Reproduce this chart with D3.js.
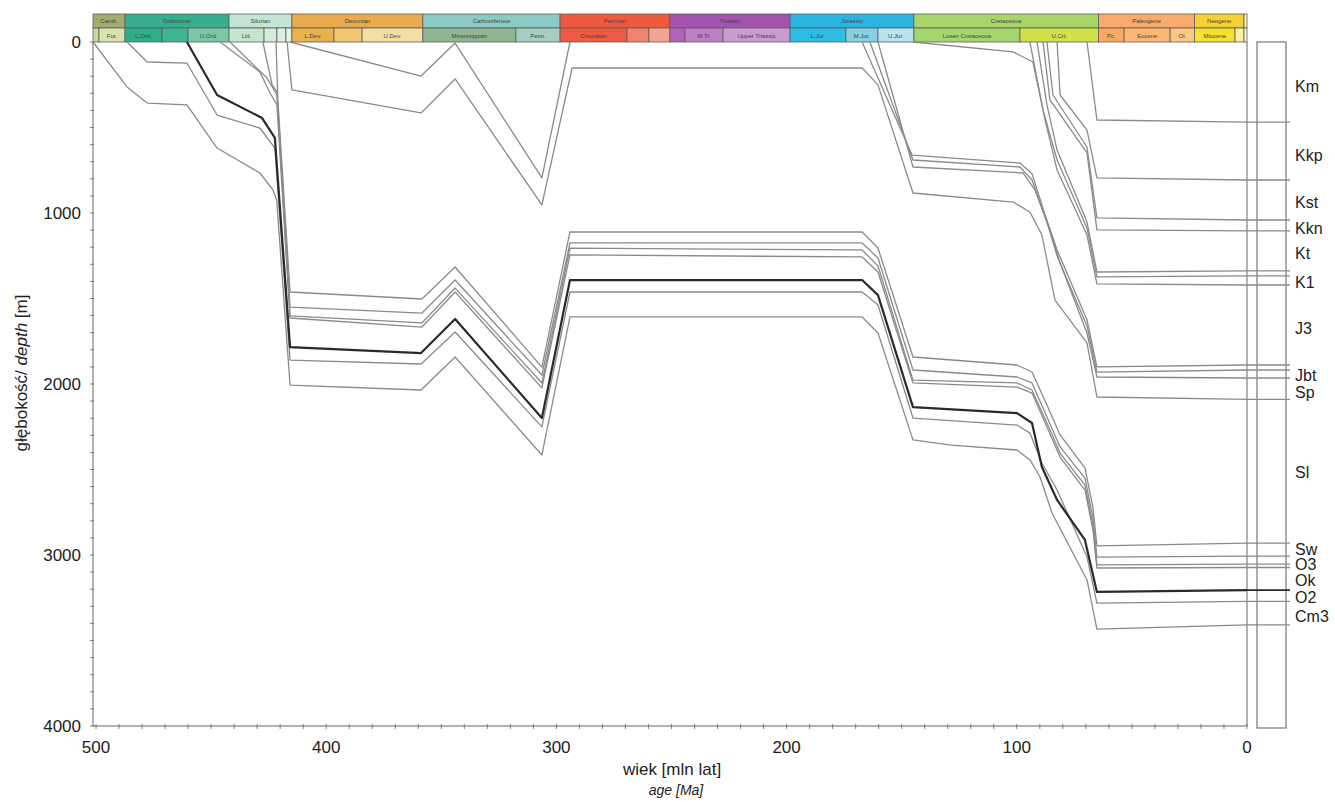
<!DOCTYPE html>
<html>
<head>
<meta charset="utf-8">
<script src="https://cdn.jsdelivr.net/npm/d3@7"></script>
<style>
  body { margin: 0; background: #fff; }
  text { font-family: "Liberation Sans", Arial, sans-serif; }
</style>
</head>
<body>
<div id="chart"></div>
<script>

// chart size
const width = 1335,
      height = 802;

// ---- data: burial curves, [age Ma, depth m] ----
const cm3Base = [[501.3,0],[486.5,263],[477.8,357],[460.5,368],[447.4,620],[428.8,766],[423.1,865],[421.5,925],[415.7,2006],
  [358.8,2035],[344,1842],[306.3,2415],[294.1,1608],[167.2,1608],[160.3,1702],[145.1,2327],[128.5,2357],[99.9,2386],
  [94.3,2444],[89.9,2544],[84.7,2754],[69.5,3146],[65.2,3433],[0,3409]]
const o2Base = [[486.5,0],[477.8,117],[460.5,123],[447.4,427],[428.8,503],[422.3,620],[415.7,1860],[358.8,1883],[344,1696],
  [306.3,2251],[294.1,1462],[167.2,1462],[160.3,1538],[145.1,2199],[99.9,2240],[94.3,2287],[89.1,2462],[82.5,2620],
  [69.5,3012],[65.2,3281],[0,3271]]
const okBase = [[460.5,0],[447.4,310],[427.9,444],[422.3,561],[415.7,1784],[358.8,1819],[344,1620],[306.3,2199],[294.1,1392],
  [167.2,1392],[160.3,1480],[145.1,2135],[99.9,2170],[93.4,2228],[89.1,2485],[82.5,2678],[70.4,2912],[65.2,3216],[0,3205]]
const o3Base = [[446.1,0],[428.8,175],[424.4,298],[421.4,368],[415.7,1614],[358.4,1667],[344,1462],[306.3,2023],[294.1,1245],
  [167.2,1257],[160.3,1345],[145.1,1994],[99.9,2018],[93.4,2053],[86.9,2251],[81.2,2427],[70.4,2620],[66.9,2854],[65.2,3076],[0,3073]]
const o3Top = [[441.8,0],[425.7,211],[421.4,310],[415.7,1602],[358.4,1643],[344,1439],[306.3,1994],[294.1,1205],
  [167.2,1216],[160.3,1310],[145.1,1977],[99.9,1994],[93.4,2035],[86.9,2228],[81.2,2404],[70.4,2591],[66.9,2825],[65.2,3058],[0,3053]]
const swBase = [[427.5,0],[423.5,251],[421.4,292],[415.7,1550],[358.4,1585],[344,1392],[306.3,1947],[294.1,1175],
  [167.2,1175],[160.3,1263],[145.1,1918],[99.9,1959],[93.4,1994],[86.9,2193],[81.2,2368],[70.4,2550],[66.9,2784],[65.2,3012],[0,3006]]
const slBase = [[421.8,0],[421,339],[415.7,1462],[358.4,1503],[344,1316],[306.3,1901],[294.1,1111],
  [167.2,1111],[160.3,1205],[145.1,1842],[99.9,1889],[93.4,1930],[86.9,2123],[81.2,2298],[70.4,2491],[66.9,2725],[65.2,2947],[0,2930]]
const spBase = [[417,0],[414.9,280],[358.8,415],[344,216],[306.3,953],[293.2,152],[167.2,152],[160.3,251],[145.1,883],
  [101.6,936],[94.3,994],[89.1,1129],[83.4,1509],[69.5,1760],[65.2,2076],[0,2090]]
const devEroded = [[415.7,0],[358.8,199],[344,6],[306.3,795],[294.1,0]]
const jbtBase = [[160.3,0],[145.1,731],[97.3,766],[92.1,865],[85.6,1099],[81.2,1292],[69.5,1702],[65.2,1959],[0,1965]]
const jbtTop = [[163.8,0],[145.1,690],[98.6,731],[93.4,807],[86.9,1053],[82.5,1251],[69.5,1661],[65.2,1930],[0,1918]]
const j3Base = [[167.2,0],[145.5,661],[98.6,708],[93.4,770],[87.7,1012],[82.5,1216],[69.5,1626],[65.2,1900],[0,1889]]
const k1Base = [[145.1,0],[101.6,58],[93,117],[87.7,456],[82.5,749],[69.5,1129],[65.2,1415],[0,1421]]
const k1Top = [[94.3,0],[88.6,398],[82.5,690],[69.5,1088],[65.2,1374],[0,1368]]
const ktBase = [[91.2,0],[86.9,368],[82.5,632],[69.5,1053],[65.2,1345],[0,1339]]
const kknBase = [[88.6,0],[85.6,339],[69.5,649],[65.2,1099],[0,1105]]
const kstBase = [[86.9,0],[84.3,310],[69.5,614],[65.2,1029],[0,1041]]
const kkpBase = [[82.5,0],[81.2,310],[69.5,515],[65.2,795],[0,807]]
const kmBase = [[69.5,0],[65.2,456],[0,468]]

const horizons = [cm3Base, o2Base, okBase, o3Base, o3Top, swBase, slBase, spBase, devEroded,
                  jbtBase, jbtTop, j3Base, k1Base, k1Top, ktBase, kknBase, kstBase, kkpBase, kmBase]
const thickHorizon = okBase

// formation names in the right column and the depth where each name sits
const unitNames = ["Km","Kkp","Kst","Kkn","Kt","K1","J3","Jbt","Sp","Sl","Sw","O3","Ok","O2","Cm3"]
const unitDepths = [263,661,941,1088,1234,1409,1673,1953,2047,2515,2965,3058,3152,3246,3357]

// time scale (ages in Ma)
const periodNames = ["Camb.","Ordovician","Silurian","Devonian","Carboniferous","Permian","Triassic","Jurassic","Cretaceous","Paleogene","Neogene",""]
const periodBounds = [501.3,487.4,442.2,414.9,358.0,298.4,250.7,198.5,144.7,64.5,22.8,1.3,0]
const epochNames = ["","Fur.","L.Ord.","","U.Ord.","Lld.","","","","L.Dev.","","U.Dev.","Mississippian","Penn.",
  "Cisuralian","","","","M.Tr.","Upper Triassic","L.Jur.","M.Jur.","U.Jur.","Lower Cretaceous","U.Crt.",
  "Pc.","Eocene","Ol.","Miocene","",""]
const epochBounds = [501.3,498.7,487.4,471.3,460.0,442.2,427.0,421.4,417.5,414.9,396.6,384.4,358.0,317.6,298.4,
  269.3,259.8,250.7,244.1,227.6,198.5,174.2,160.3,144.7,98.6,64.5,53.4,33.4,22.8,5.2,1.3,0]

const xTicks = [500,400,300,200,100,0]
const yTicks = [0,1000,2000,3000,4000]

// colours
const periodColors = ["#a3ad6c","#37ae8d","#c3e5d6","#e8a94f","#8ccac5","#ee5a3f","#a453af","#2cb4e0","#a8d46a","#f8ab6c","#f4d236","#fff5b0"]
const epochColors = ["#c9d7a3","#d6e3b0","#2fae8a","#3db593","#77c9aa","#c4e6cf","#d3ecdc","#dcf0e3","#e3f3e9",
  "#e9b24f","#f2c772","#f4dfa2","#8fb592","#a6cdc1","#ef5a45","#f1826c","#f3a591","#b262b9","#c07fc5","#c99bd0",
  "#2fbde6","#86d2e2","#b8e4f0","#a5d56f","#cfe24a","#fba865","#fcb776","#fdc685","#f5e12e","#faf0a0","#fff8d0"]

// ---- scales ----
const x = d3.scaleLinear().domain([501.3, 0]).range([93, 1247])
const y = d3.scaleLinear().domain([0, 4000]).range([42, 726])

const svg = d3.select("#chart")
              .append("svg")
              .attr("width", width)
              .attr("height", height)

// time scale bar
const bar = svg.append("g")

bar.selectAll(".period")
   .data(periodNames)
   .join("rect")
   .attr("x", (d, i) => x(periodBounds[i]))
   .attr("y", 14)
   .attr("width", (d, i) => x(periodBounds[i + 1]) - x(periodBounds[i]))
   .attr("height", 14)
   .style("fill", (d, i) => periodColors[i])
   .style("stroke", "#5e5e5e")
   .style("stroke-width", 0.8)

bar.selectAll(".ptext")
   .data(periodNames)
   .join("text")
   .attr("x", (d, i) => (x(periodBounds[i]) + x(periodBounds[i + 1])) / 2)
   .attr("y", 23)
   .attr("text-anchor", "middle")
   .style("font-size", "6px")
   .style("fill", "#444")
   .text(d => d)

bar.selectAll(".epoch")
   .data(epochNames)
   .join("rect")
   .attr("x", (d, i) => x(epochBounds[i]))
   .attr("y", 28)
   .attr("width", (d, i) => x(epochBounds[i + 1]) - x(epochBounds[i]))
   .attr("height", 14)
   .style("fill", (d, i) => epochColors[i])
   .style("stroke", "#5e5e5e")
   .style("stroke-width", 0.8)

bar.selectAll(".etext")
   .data(epochNames)
   .join("text")
   .attr("x", (d, i) => (x(epochBounds[i]) + x(epochBounds[i + 1])) / 2)
   .attr("y", 37.5)
   .attr("text-anchor", "middle")
   .style("font-size", "6px")
   .style("fill", "#444")
   .text(d => d)

// axes
const axes = svg.append("g").style("stroke", "#666").style("fill", "none")

axes.append("line")
    .attr("x1", x(501.3)).attr("x2", x(501.3))
    .attr("y1", y(0)).attr("y2", y(4000))
axes.append("line")
    .attr("x1", x(501.3)).attr("x2", x(0))
    .attr("y1", y(4000)).attr("y2", y(4000))
axes.append("line")
    .attr("x1", x(0)).attr("x2", x(0))
    .attr("y1", y(0)).attr("y2", y(4000))

// minor ticks
axes.selectAll(".xminor")
    .data(d3.range(0, 501, 10))
    .join("line")
    .attr("x1", d => x(d)).attr("x2", d => x(d))
    .attr("y1", y(4000) - 2).attr("y2", y(4000) + 3)
    .style("stroke-width", 0.8)
axes.selectAll(".yminor")
    .data(d3.range(0, 4001, 100))
    .join("line")
    .attr("x1", x(501.3) - 3).attr("x2", x(501.3) + 1)
    .attr("y1", d => y(d)).attr("y2", d => y(d))
    .style("stroke-width", 0.8)

svg.selectAll(".xlab")
   .data(xTicks)
   .join("text")
   .attr("x", d => x(d))
   .attr("y", 753)
   .attr("text-anchor", "middle")
   .style("font-size", "17px")
   .style("fill", "#222")
   .text(d => d)

svg.selectAll(".ylab")
   .data(yTicks)
   .join("text")
   .attr("x", 81)
   .attr("y", d => y(d) + 6)
   .attr("text-anchor", "end")
   .style("font-size", "17px")
   .style("fill", "#222")
   .text(d => d)

// axis titles
svg.append("text")
   .attr("x", 672).attr("y", 775)
   .attr("text-anchor", "middle")
   .style("font-size", "17px").style("fill", "#222")
   .text("wiek [mln lat]")

svg.append("text")
   .attr("x", 676).attr("y", 795)
   .attr("text-anchor", "middle")
   .style("font-size", "14px").style("font-style", "italic").style("fill", "#222")
   .text("age [Ma]")

const ytitle = svg.append("text")
   .attr("transform", "translate(27,373) rotate(-90)")
   .attr("text-anchor", "middle")
   .style("font-size", "17px").style("fill", "#222")
ytitle.append("tspan").text("głębokość/ ")
ytitle.append("tspan").style("font-style", "italic").text("depth")
ytitle.append("tspan").text(" [m]")

// burial curves
const line = d3.line()
               .x(d => x(d[0]))
               .y(d => y(d[1]))

svg.append("g")
   .selectAll("path")
   .data(horizons)
   .join("path")
   .attr("d", line)
   .style("fill", "none")
   .style("stroke", d => d === thickHorizon ? "#2a2a2a" : "#8a8a8a")
   .style("stroke-width", d => d === thickHorizon ? 2.2 : 1.3)
   .style("stroke-linejoin", "round")

// right column: formation box, boundaries and names
svg.append("rect")
   .attr("x", 1257).attr("y", y(0))
   .attr("width", 29).attr("height", y(4000) - y(0) + 2)
   .style("fill", "none").style("stroke", "#777").style("stroke-width", 1.2)

svg.append("g")
   .selectAll("line")
   .data(horizons.filter(h => h[h.length - 1][1] > 0))
   .join("line")
   .attr("x1", x(0)).attr("x2", 1290)
   .attr("y1", d => y(d[d.length - 1][1]))
   .attr("y2", d => y(d[d.length - 1][1]))
   .style("stroke", d => d === thickHorizon ? "#2a2a2a" : "#8a8a8a")
   .style("stroke-width", d => d === thickHorizon ? 1.8 : 1.3)

svg.selectAll(".unit")
   .data(unitNames)
   .join("text")
   .attr("x", 1295)
   .attr("y", (d, i) => y(unitDepths[i]) + 5.5)
   .style("font-size", "16px")
   .style("fill", "#222")
   .text(d => d)

</script>
</body>
</html>
